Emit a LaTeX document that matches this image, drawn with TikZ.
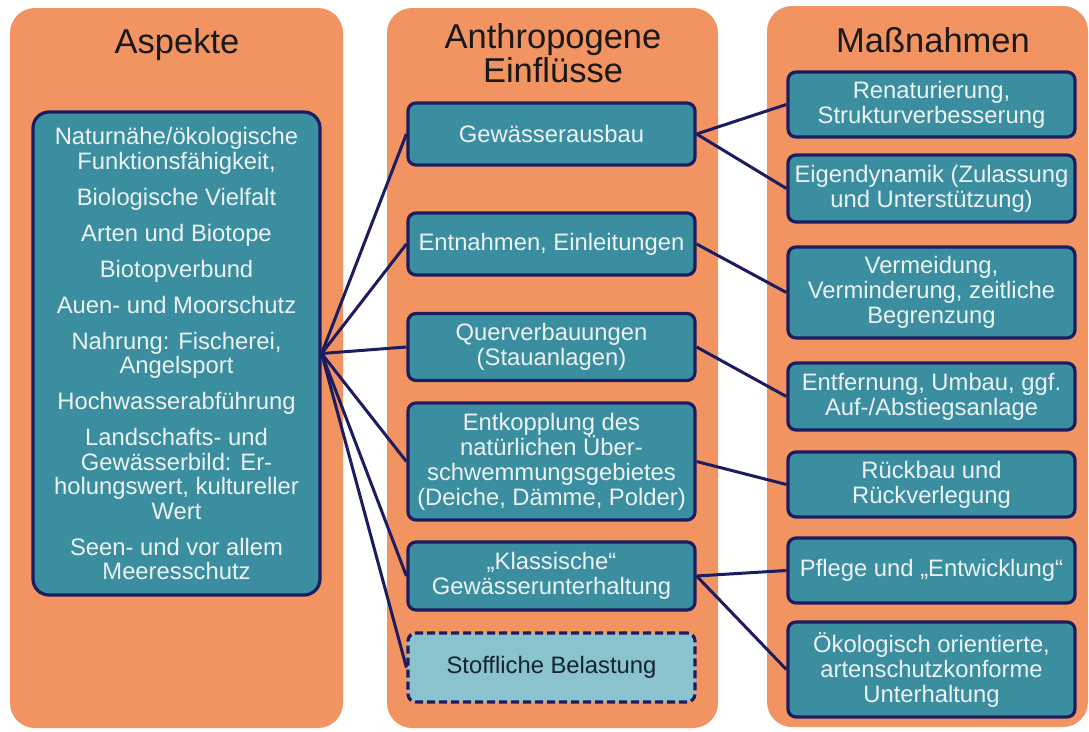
\documentclass[tikz,border=0pt]{standalone}
\usepackage{fontspec}
\setmainfont{Liberation Sans}
\definecolor{orangeC}{RGB}{242,148,98}
\definecolor{tealC}{RGB}{58,142,160}
\definecolor{navyC}{RGB}{28,28,96}
\definecolor{textC}{RGB}{236,242,242}
\definecolor{lightC}{RGB}{138,194,205}
\definecolor{darkT}{RGB}{20,36,48}
\newcommand\boxfont{\fontsize{23.8}{25}\selectfont}
\newcommand\titlefont{\fontsize{34.5}{34}\selectfont}
\begin{document}
\begin{tikzpicture}[x=1pt,y=-1pt,
  panel/.style={fill=orangeC, rounded corners=25},
  ttl/.style={font=\titlefont, text=black!90, align=center, inner sep=0},
  tbox/.style={draw=navyC, line width=3.2, fill=tealC, rounded corners=8, text=textC, font=\boxfont, align=center, inner sep=0},
  sbox/.style={tbox, fill=lightC, text=darkT, dash pattern=on 8pt off 4pt},
  link/.style={draw=navyC, line width=3}]
\useasboundingbox (0,0) rectangle (1089,731);
\fill[white] (0,0) rectangle (1089,731);
% panels
\fill[panel] (10,8) rectangle (343,728);
\fill[panel] (387,8) rectangle (718,728);
\fill[panel] (767,6) rectangle (1088,727);
% titles
\node[ttl, anchor=base] (t1) at (177,53) {Aspekte};
\node[ttl, anchor=base] (t2a) at (553,48) {Anthropogene};
\node[ttl, anchor=base] (t2b) at (553,82) {Einflüsse};
\node[ttl, anchor=base] (t3) at (933,52) {Maßnahmen};
% left box
\node[tbox, rounded corners=16, minimum width=287, minimum height=483, font=\fontsize{23.8}{24.5}\selectfont] (L) at (176.5,353.5)
 {Naturnähe/ökologische\\Funktionsfähigkeit,\\[11.5pt]
  Biologische Vielfalt\\[11.5pt]
  Arten und Biotope\\[11.5pt]
  Biotopverbund\\[11.5pt]
  Auen- und Moorschutz\\[11.5pt]
  Nahrung: Fischerei,\\Angelsport\\[11.5pt]
  Hochwasserabführung\\[11.5pt]
  Landschafts- und\\Gewässerbild: Er-\\holungswert, kultureller\\Wert\\[11.5pt]
  Seen- und vor allem\\Meeresschutz};
% middle boxes
\node[tbox, minimum width=287, minimum height=62] (m1) at (551.5,134) {Gewässerausbau};
\node[tbox, minimum width=287, minimum height=62] (m2) at (551.5,244) {Entnahmen, Einleitungen};
\node[tbox, minimum width=287, minimum height=67] (m3) at (551.5,347) {Querverbauungen\\(Stauanlagen)};
\node[tbox, minimum width=287, minimum height=117] (m4) at (551.5,461.5) {Entkopplung des\\natürlichen Über-\\schwemmungsgebietes\\(Deiche, Dämme, Polder)};
\node[tbox, minimum width=287, minimum height=68] (m5) at (551.5,576) {„Klassische“\\Gewässerunterhaltung};
\node[sbox, minimum width=287, minimum height=69] (m6) at (551.5,667.5) {Stoffliche Belastung};
% right boxes
\node[tbox, minimum width=287, minimum height=65] (r1) at (931.5,104.5) {Renaturierung,\\Strukturverbesserung};
\node[tbox, minimum width=287, minimum height=67] (r2) at (931.5,188.5) {Eigendynamik (Zulassung\\und Unterstützung)};
\node[tbox, minimum width=287, minimum height=91] (r3) at (931.5,292.5) {Vermeidung,\\Verminderung, zeitliche\\Begrenzung};
\node[tbox, minimum width=287, minimum height=67] (r4) at (931.5,396.5) {Entfernung, Umbau, ggf.\\Auf-/Abstiegsanlage};
\node[tbox, minimum width=287, minimum height=65] (r5) at (931.5,484.5) {Rückbau und\\Rückverlegung};
\node[tbox, minimum width=287, minimum height=65] (r6) at (931.5,570.5) {Pflege und „Entwicklung“};
\node[tbox, minimum width=287, minimum height=95] (r7) at (931.5,669.5) {Ökologisch orientierte,\\artenschutzkonforme\\Unterhaltung};
% links
\foreach \m in {m1,m2,m3,m4,m5,m6} \draw[link] (L.east) -- (\m.west);
\draw[link] (m1.east) -- (r1.west);
\draw[link] (m1.east) -- (r2.west);
\draw[link] (m2.east) -- (r3.west);
\draw[link] (m3.east) -- (r4.west);
\draw[link] (m4.east) -- (r5.west);
\draw[link] (m5.east) -- (r6.west);
\draw[link] (m5.east) -- (r7.west);
\end{tikzpicture}
\end{document}
